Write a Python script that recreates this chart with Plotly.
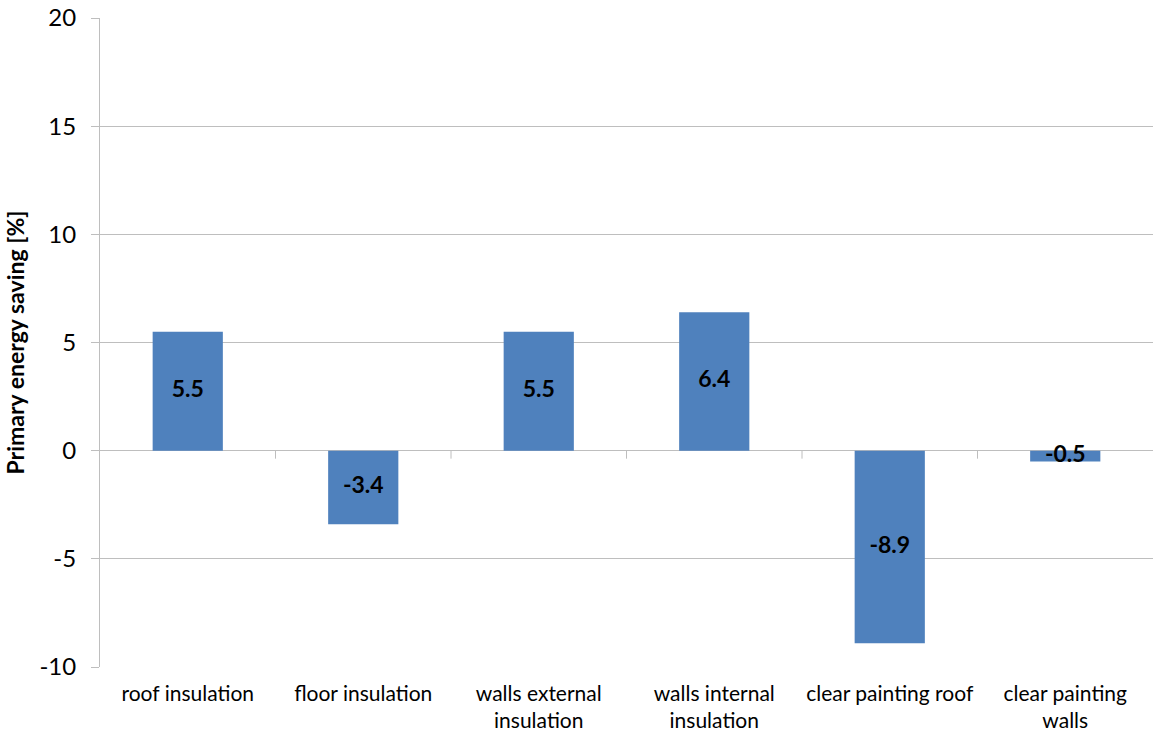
import plotly.graph_objects as go

# Retrofit measures and their primary energy saving (%)
categories = [
    "roof insulation",
    "floor insulation",
    "walls external<br>insulation",
    "walls internal<br>insulation",
    "clear painting roof",
    "clear painting<br>walls",
]
savings = [5.5, -3.4, 5.5, 6.4, -8.9, -0.5]
y_ticks = [-10, -5, 0, 5, 10, 15, 20]
y_tick_labels = [str(v) for v in y_ticks]

BAR_COLOR = "#4F81BD"
GRID_COLOR = "#BEBEBE"
FONT = "Lato, Open Sans, sans-serif"

positions = list(range(len(categories)))

fig = go.Figure()
fig.add_trace(go.Bar(
    x=positions,
    y=savings,
    marker=dict(color=BAR_COLOR, line=dict(width=0)),
    width=0.4,
    hoverinfo="skip",
))
# value labels centred in each bar
fig.add_trace(go.Scatter(
    x=positions,
    y=[v / 2 for v in savings],
    mode="text",
    text=[f"{v:.1f}" for v in savings],
    textfont=dict(family=FONT, size=23, color="black", weight="bold"),
    textposition="middle center",
    hoverinfo="skip",
))

# category separator ticks hanging below the zero line
for k in range(1, len(categories)):
    fig.add_shape(
        type="line", xref="x", yref="y",
        x0=k - 0.5, x1=k - 0.5,
        ysizemode="pixel", yanchor=0, y0=0, y1=-8,
        line=dict(color=GRID_COLOR, width=1),
    )

fig.update_layout(
    width=1153, height=740, autosize=False,
    margin=dict(l=100, r=0, t=18, b=73),
    plot_bgcolor="white", paper_bgcolor="white",
    showlegend=False,
    font=dict(family=FONT, color="black"),
)
fig.update_xaxes(
    range=[-0.5, len(categories) - 0.5],
    tickmode="array", tickvals=positions, ticktext=categories,
    tickfont=dict(size=21, family=FONT, color="black"),
    showgrid=False, zeroline=False, ticks="",
    showline=False,
    ticklabelstandoff=12,
)
fig.update_yaxes(
    range=[-10, 20],
    tickmode="array", tickvals=y_ticks, ticktext=y_tick_labels,
    tickfont=dict(size=24, family=FONT, color="black"),
    showgrid=True, gridcolor=GRID_COLOR, gridwidth=1,
    zeroline=True, zerolinecolor=GRID_COLOR, zerolinewidth=1,
    showline=True, linecolor=GRID_COLOR, linewidth=1,
    ticks="outside", ticklen=8, tickcolor=GRID_COLOR,
    ticklabelstandoff=10,
    title=dict(text="<b>Primary energy saving [%]</b>",
               font=dict(size=23, family=FONT, color="black"), standoff=8),
)

fig.write_html("out.html")
